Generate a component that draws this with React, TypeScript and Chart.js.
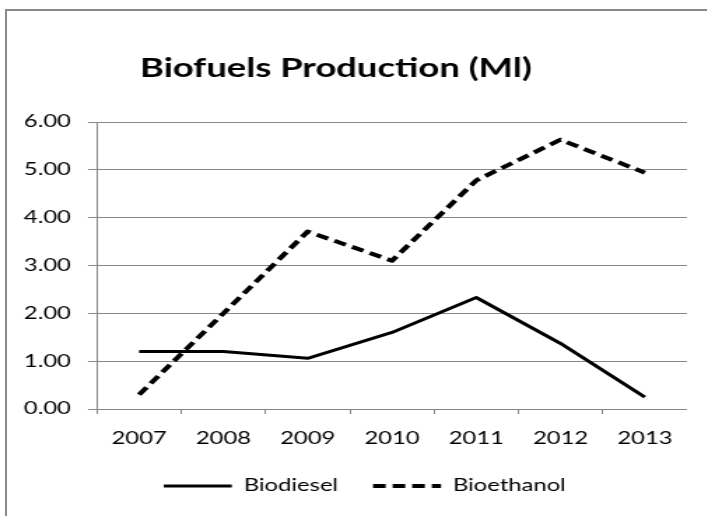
import React, { useEffect, useRef } from 'react';
import { Chart, registerables } from 'chart.js';

Chart.register(...registerables);

const TITLE = 'Biofuels Production (Ml)';
const years = ['2007', '2008', '2009', '2010', '2011', '2012', '2013'];
const biodiesel = [1.2, 1.2, 1.06, 1.6, 2.33, 1.37, 0.25];
const bioethanol = [0.3, 2.0, 3.71, 3.1, 4.78, 5.63, 4.94];
const yMin = 0;
const yMax = 6;
const yStep = 1;

const FONT = "Lato, 'Open Sans', sans-serif";

const titlePlugin = {
  id: 'manualTitle',
  afterLayout(chart: any) {
    // shift legend to sit where the reference legend sits
    if (chart.legend) {
      chart.legend.left += 15.2;
      chart.legend.right += 15.2;
    }
  },
  afterDraw(chart: any) {
    const ctx = chart.ctx;
    ctx.save();
    ctx.font = `bold 26px ${FONT}`;
    ctx.fillStyle = '#000';
    ctx.textBaseline = 'alphabetic';
    ctx.textAlign = 'left';
    ctx.fillText(TITLE, 100, 77);
    ctx.restore();
  },
};

export default function App() {
  const ref = useRef<HTMLCanvasElement>(null);

  useEffect(() => {
    const chart = new Chart(ref.current!, {
      type: 'line',
      data: {
        labels: years,
        datasets: [
          {
            label: 'Biodiesel',
            data: biodiesel,
            borderColor: '#000',
            backgroundColor: '#000',
            borderWidth: 3,
            pointRadius: 0,
            tension: 0,
            fill: false,
            borderJoinStyle: 'round',
          },
          {
            label: 'Bioethanol',
            data: bioethanol,
            borderColor: '#000',
            backgroundColor: '#000',
            borderWidth: 4,
            borderDash: [9, 5],
            pointRadius: 0,
            tension: 0,
            fill: false,
            borderJoinStyle: 'round',
          },
        ],
      },
      options: {
        responsive: false,
        animation: false,
        events: [],
        layout: { padding: { left: 0, right: 0, top: 122, bottom: 11.5 } },
        plugins: {
          title: { display: false },
          tooltip: { enabled: false },
          legend: {
            position: 'bottom',
            align: 'center',
            labels: {
              usePointStyle: true,
              pointStyle: 'line',
              pointStyleWidth: 48.6,
              padding: 25,
              color: '#000',
              font: { family: FONT, size: 17 },
              generateLabels: (chart: any) => {
                const items = Chart.defaults.plugins.legend.labels.generateLabels(chart);
                return items.map((it: any) => {
                  const ds: any = chart.data.datasets[it.datasetIndex];
                  return {
                    ...it,
                    pointStyle: 'line',
                    lineDash: ds.borderDash || [],
                    lineWidth: ds.borderWidth,
                    strokeStyle: ds.borderColor,
                    lineCap: 'butt',
                  };
                });
              },
            },
          },
        },
        scales: {
          x: {
            offset: true,
            grid: {
              display: true,
              drawOnChartArea: false,
              drawTicks: true,
              tickLength: 5,
              color: '#888',
              offset: true,
            },
            border: { display: true, color: '#888' },
            ticks: {
              padding: 14,
              color: '#000',
              font: { family: FONT, size: 17 },
              maxRotation: 0,
              autoSkip: false,
            },
            afterFit: (s: any) => {
              s.height = 43.5;
              s.paddingLeft = 0;
              s.paddingRight = 0;
            },
          },
          y: {
            min: yMin,
            max: yMax,
            ticks: {
              stepSize: yStep,
              padding: 12.2,
              color: '#000',
              font: { family: FONT, size: 17 },
              callback: (v: any) => Number(v).toFixed(2),
            },
            grid: { color: '#888', tickLength: 6.4, lineWidth: 1 },
            border: { display: true, color: '#888' },
            afterFit: (s: any) => {
              s.width = 69.3;
            },
          },
        },
      },
      plugins: [titlePlugin],
    } as any);
    return () => chart.destroy();
  }, []);

  return (
    <div
      style={{
        position: 'fixed',
        left: 0,
        top: 0,
        width: 707,
        height: 516,
        overflow: 'hidden',
        background: '#fff',
      }}
    >
      <div
        style={{
          position: 'absolute',
          left: 5,
          top: 9,
          width: 800,
          height: 600,
          border: '2px solid #8a8a8a',
        }}
      />
      <canvas
        ref={ref}
        width={491}
        height={516}
        style={{ position: 'absolute', left: 0, top: 0, width: '687px', height: '516px' }}
      />
    </div>
  );
}
